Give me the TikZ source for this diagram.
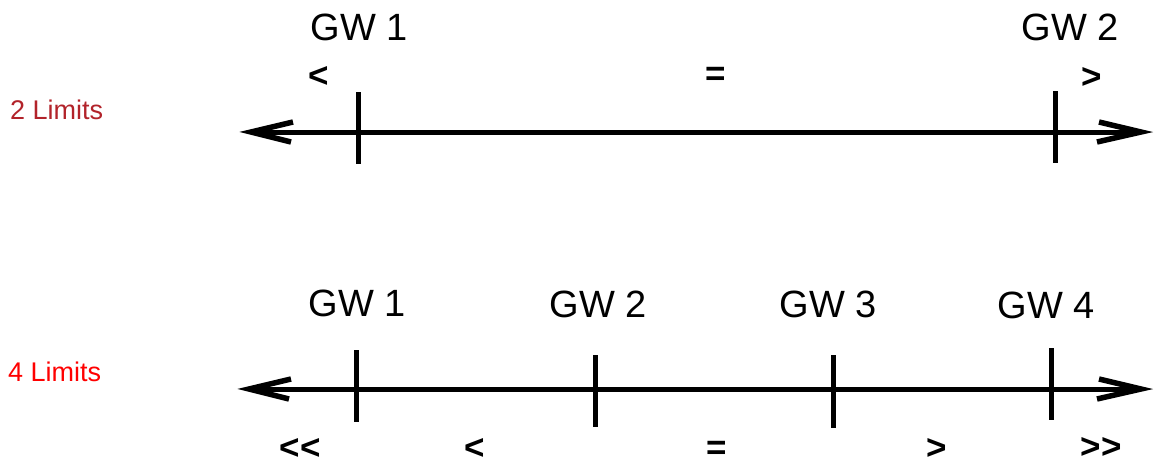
\documentclass[tikz,border=0pt]{standalone}
\usepackage{fontspec}
\setmainfont{Liberation Sans}
\usetikzlibrary{calc}
\definecolor{darkred}{HTML}{B2232A}
\definecolor{brightred}{HTML}{FF0000}
\tikzset{
  axis/.style={line width=5pt},
  barb/.style={line width=5.5pt, line join=miter, miter limit=30, line cap=butt},
  tickmark/.style={line width=5pt},
  gw/.style={font=\fontsize{38}{40}\selectfont, inner sep=0pt, anchor=center},
  rel/.style={font=\fontsize{35}{40}\selectfont\bfseries, inner sep=0pt, anchor=center},
  lim/.style={font=\fontsize{27}{30}\selectfont, inner sep=0pt, anchor=west},
}
\begin{document}
\begin{tikzpicture}[x=1pt,y=-1pt]
\useasboundingbox (0,0) rectangle (1157,466);
% labels left
\node[lim, text=darkred] (l2) at (10,110) {2 Limits};
\node[lim, text=brightred] (l4) at (8,372) {4 Limits};
% top axis
\coordinate (aL) at (251,132);
\coordinate (aR) at (1141,132);
\draw[axis] (aL) -- (aR);
\draw[barb] ($(aL)+(42,-10)$) -- (aL) -- ($(aL)+(40,10)$);
\draw[barb] ($(aR)+(-42,-10)$) -- (aR) -- ($(aR)+(-44,10)$);
\coordinate (t1a) at (358,92); \coordinate (t1b) at (358,164);
\coordinate (t2a) at (1055,91); \coordinate (t2b) at (1055,163);
\draw[tickmark] (t1a) -- (t1b);
\draw[tickmark] (t2a) -- (t2b);
\node[gw] (g1) at (359,27) {GW 1};
\node[gw] (g2) at (1070,27) {GW 2};
\node[rel] (r1) at (319,77) {<};
\node[rel] (r2) at (716,76) {=};
\node[rel] (r3) at (1092,78) {>};
% bottom axis
\coordinate (bL) at (249,389);
\coordinate (bR) at (1141,389);
\draw[axis] (bL) -- (bR);
\draw[barb] ($(bL)+(42,-10)$) -- (bL) -- ($(bL)+(40,10)$);
\draw[barb] ($(bR)+(-42,-10)$) -- (bR) -- ($(bR)+(-44,10)$);
\coordinate (s1a) at (356,350); \coordinate (s1b) at (356,422);
\coordinate (s2a) at (595,355); \coordinate (s2b) at (595,427);
\coordinate (s3a) at (833,355); \coordinate (s3b) at (833,428);
\coordinate (s4a) at (1051,348); \coordinate (s4b) at (1051,420);
\draw[tickmark] (s1a) -- (s1b);
\draw[tickmark] (s2a) -- (s2b);
\draw[tickmark] (s3a) -- (s3b);
\draw[tickmark] (s4a) -- (s4b);
\node[gw] (h1) at (357,303) {GW 1};
\node[gw] (h2) at (598,304) {GW 2};
\node[gw] (h3) at (828,304) {GW 3};
\node[gw] (h4) at (1046,305) {GW 4};
\node[rel] (q1) at (300,449) {{<}{<}};
\node[rel] (q2) at (475,449) {<};
\node[rel] (q3) at (717,450) {=};
\node[rel] (q4) at (937,449) {>};
\node[rel] (q5) at (1101,448) {{>}{>}};
\end{tikzpicture}
\end{document}
